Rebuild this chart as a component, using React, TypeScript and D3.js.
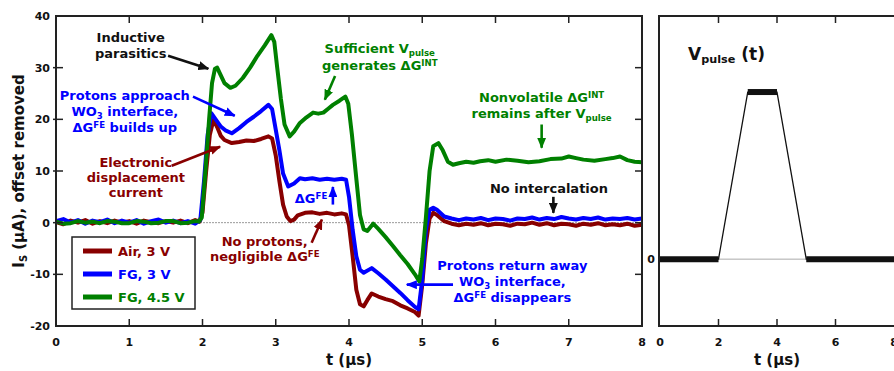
import * as d3 from "d3";

// ---- data ----
const timeTicks = [0, 1, 2, 3, 4, 5, 6, 7, 8];
const currentTicks = [-20, -10, 0, 10, 20, 30, 40];
const pulseTicks = [0, 2, 4, 6, 8];

const seriesNames = ["Air, 3 V", "FG, 3 V", "FG, 4.5 V"];

// [t (us), I_S (uA)]
const airTrace: [number, number][] = [
  [0, 0.1], [0.1, -0.3], [0.2, 0.4], [0.3, 0], [0.4, 0.5], [0.5, -0.2], [0.6, 0.3], [0.7, -0.1],
  [0.8, 0.4], [0.9, 0], [1.0, 0.3], [1.1, -0.2], [1.2, 0.4], [1.3, 0.1], [1.4, -0.1], [1.5, 0.3],
  [1.6, 0], [1.7, 0.4], [1.8, -0.1], [1.9, 0.5], [1.96, 0.2], [2.0, 2], [2.05, 10], [2.1, 17],
  [2.15, 19.9], [2.2, 18.5], [2.25, 16.8], [2.3, 16], [2.4, 15.4], [2.5, 15.6], [2.6, 15.9],
  [2.7, 15.8], [2.8, 16.2], [2.9, 16.7], [2.95, 16.3], [3.0, 13], [3.05, 8], [3.1, 3.5],
  [3.15, 1.2], [3.2, 0.3], [3.25, 0.6], [3.3, 1.4], [3.4, 1.9], [3.5, 2.0], [3.6, 1.7],
  [3.7, 1.9], [3.8, 1.6], [3.9, 1.8], [3.96, 1.6], [4.0, -0.5], [4.05, -6.5], [4.1, -13],
  [4.15, -15.8], [4.2, -16.2], [4.25, -15], [4.31, -13.7], [4.4, -14.3], [4.5, -14.8],
  [4.6, -15.2], [4.7, -16], [4.8, -16.6], [4.9, -17.3], [4.95, -18], [5.0, -12], [5.05, -4],
  [5.1, 0.8], [5.15, 1.9], [5.2, 1.5], [5.3, 0.3], [5.4, -0.2], [5.5, -0.5], [5.6, -0.2],
  [5.7, -0.4], [5.8, -0.1], [5.9, -0.5], [6.0, -0.2], [6.1, -0.3], [6.2, -0.6], [6.3, -0.2],
  [6.4, -0.3], [6.5, 0], [6.6, -0.4], [6.7, -0.1], [6.8, -0.5], [6.9, -0.2], [7.0, -0.3],
  [7.1, -0.6], [7.2, -0.2], [7.3, -0.4], [7.4, -0.1], [7.5, -0.5], [7.6, -0.3], [7.7, -0.5],
  [7.8, -0.2], [7.9, -0.6], [8.0, -0.4],
];

const fg3Trace: [number, number][] = [
  [0, 0.3], [0.1, 0.7], [0.2, 0], [0.3, 0.5], [0.4, -0.2], [0.5, 0.4], [0.6, 0.1], [0.7, 0.6],
  [0.8, -0.1], [0.9, 0.4], [1.0, 0], [1.1, 0.5], [1.2, -0.2], [1.3, 0.3], [1.4, 0.6], [1.5, 0],
  [1.6, 0.4], [1.7, -0.1], [1.8, 0.3], [1.9, -0.2], [1.97, 0.5], [2.02, 8], [2.07, 17],
  [2.12, 21.2], [2.18, 20], [2.25, 18.6], [2.32, 17.8], [2.4, 17.3], [2.5, 18.3], [2.6, 19.5],
  [2.7, 20.5], [2.8, 21.6], [2.9, 22.8], [2.95, 22], [3.0, 18], [3.05, 14], [3.1, 9.5],
  [3.17, 7], [3.25, 7.6], [3.33, 8.6], [3.4, 8.4], [3.5, 8.6], [3.6, 8.3], [3.7, 8.5],
  [3.8, 8.3], [3.9, 8.5], [3.96, 8.3], [4.0, 5], [4.05, -1.4], [4.1, -6.5], [4.15, -9.1],
  [4.2, -9.7], [4.31, -8.8], [4.4, -9.8], [4.5, -11], [4.6, -12.3], [4.7, -13.6], [4.8, -15],
  [4.9, -16.3], [4.95, -16.8], [5.0, -11], [5.05, -1.4], [5.1, 2.5], [5.15, 2.9], [5.2, 2.5],
  [5.3, 1.2], [5.4, 0.8], [5.5, 0.5], [5.6, 0.8], [5.7, 0.6], [5.8, 0.9], [5.9, 0.5],
  [6.0, 0.8], [6.1, 0.7], [6.2, 0.4], [6.3, 0.8], [6.4, 0.7], [6.5, 1.0], [6.6, 0.6],
  [6.7, 0.9], [6.8, 0.7], [6.9, 1.1], [7.0, 0.8], [7.1, 0.6], [7.2, 0.9], [7.3, 0.7],
  [7.4, 1.0], [7.5, 0.6], [7.6, 0.8], [7.7, 0.7], [7.8, 0.9], [7.9, 0.6], [8.0, 0.8],
];

const fg45Trace: [number, number][] = [
  [0, 0.2], [0.1, -0.2], [0.2, -0.1], [0.3, 0.3], [0.4, 0], [0.5, 0.2], [0.6, -0.1], [0.7, 0.3],
  [0.8, 0.2], [0.9, -0.1], [1.0, -0.1], [1.1, 0.3], [1.2, 0.2], [1.3, -0.1], [1.4, 0],
  [1.5, 0.3], [1.6, 0.3], [1.7, -0.1], [1.8, 0], [1.9, 0.3], [1.95, 0.2], [1.99, 1],
  [2.04, 10], [2.09, 20], [2.13, 27], [2.17, 29.8], [2.2, 30], [2.25, 28.5], [2.3, 27],
  [2.38, 26.1], [2.45, 26.5], [2.55, 28], [2.65, 30], [2.75, 32.3], [2.85, 34.3], [2.94, 36.3],
  [2.98, 35], [3.02, 30], [3.07, 24], [3.12, 19], [3.19, 16.7], [3.25, 17.6], [3.33, 19.3],
  [3.42, 20.4], [3.51, 21.3], [3.58, 21.1], [3.65, 21.3], [3.72, 22.1], [3.78, 22.8],
  [3.87, 23.6], [3.95, 24.4], [3.99, 23], [4.04, 17], [4.1, 8.5], [4.15, 1.5], [4.2, -1.3],
  [4.25, -1.6], [4.33, -0.2], [4.4, -1.2], [4.5, -2.8], [4.6, -4.5], [4.7, -6.3], [4.8, -8],
  [4.9, -10], [4.96, -11.4], [5.0, -7], [5.05, 1], [5.1, 10], [5.15, 14.8], [5.22, 15.4],
  [5.28, 14], [5.35, 11.8], [5.42, 11.2], [5.5, 11.5], [5.6, 11.8], [5.7, 11.6], [5.79, 11.9],
  [5.9, 12.1], [6.0, 11.8], [6.15, 12.2], [6.3, 12.0], [6.45, 11.7], [6.6, 11.9], [6.75, 12.3],
  [6.9, 12.4], [7.0, 12.8], [7.1, 12.5], [7.2, 12.2], [7.35, 12.0], [7.5, 12.3], [7.6, 12.5],
  [7.7, 12.8], [7.8, 12.1], [7.9, 11.8], [8.0, 11.7],
];

// V_pulse(t) normalised
const pulseTimes = [0, 2, 3, 4, 5, 8];
const pulseValues = [0, 0, 1, 1, 0, 0];

const RED = "#880000";
const BLUE = "#0000ff";
const GREEN = "#008000";
const INK = "#111";
const FONT = "DejaVu Sans, Verdana, sans-serif";

const traces = [
  { name: seriesNames[0], pts: airTrace, color: RED },
  { name: seriesNames[1], pts: fg3Trace, color: BLUE },
  { name: seriesNames[2], pts: fg45Trace, color: GREEN },
];

// annotations (position of first text line in data coords)
const notes = [
  { lines: ["Inductive", "parasitics"], t: 1.02, v: 35.0, color: INK, lh: 16 },
  { lines: ["Protons approach", "WO_{3} interface,", "ΔG^{FE} builds up"], t: 0.94, v: 23.8, color: BLUE, lh: 16 },
  { lines: ["Electronic", "displacement", "current"], t: 1.09, v: 10.8, color: RED, lh: 15 },
  { lines: ["Sufficient V_{pulse}", "generates ΔG^{INT}"], t: 4.42, v: 32.9, color: GREEN, lh: 17 },
  { lines: ["Nonvolatile ΔG^{INT}", "remains after V_{pulse}"], t: 6.63, v: 23.4, color: GREEN, lh: 16 },
  { lines: ["No intercalation"], t: 6.73, v: 5.8, color: INK, lh: 15 },
  { lines: ["No protons,", "negligible ΔG^{FE}"], t: 2.85, v: -4.6, color: RED, lh: 15 },
  { lines: ["Protons return away", "WO_{3} interface,", "ΔG^{FE} disappears"], t: 6.23, v: -9.1, color: BLUE, lh: 16 },
];

const arrows = [
  { from: [1.53, 32.3], to: [2.08, 29.8], color: INK },
  { from: [1.87, 24.4], to: [2.44, 20.7], color: BLUE },
  { from: [1.58, 11.0], to: [2.24, 14.7], color: RED },
  { from: [3.81, 28.4], to: [3.67, 23.8], color: GREEN },
  { from: [6.63, 19.0], to: [6.63, 14.5], color: GREEN },
  { from: [6.79, 5.0], to: [6.79, 1.9], color: INK },
  { from: [3.78, 3.5], to: [3.78, 6.9], color: BLUE },
  { from: [3.49, -3.9], to: [3.63, 0.6], color: RED },
  { from: [5.42, -12.0], to: [4.79, -12.0], color: BLUE },
];

// renders "_{sub}" and "^{sup}" markup as tspans
function rich(str: string) {
  const parts = str.split(/(_\{[^}]*\}|\^\{[^}]*\})/).filter(Boolean);
  let cur = 0;
  return parts.map((p, i) => {
    let target = 0;
    let txt = p;
    let small = false;
    if (p.startsWith("_{")) { target = 3; txt = p.slice(2, -1); small = true; }
    else if (p.startsWith("^{")) { target = -4; txt = p.slice(2, -1); small = true; }
    const dy = target - cur;
    cur = target;
    return (
      <tspan key={i} dy={dy} fontSize={small ? "66%" : undefined}>{txt}</tspan>
    );
  });
}

export default function App() {
  const W = 894, H = 371;
  const x = d3.scaleLinear().domain([0, 8]).range([56, 642]);
  const y = d3.scaleLinear().domain([-20, 40]).range([326, 16]);
  const xp = d3.scaleLinear().domain([0, 8]).range([660, 894]);
  const yp = d3.scaleLinear().domain([-0.4, 1.455]).range([326, 16]);

  const line = d3.line<[number, number]>().x(d => x(d[0])).y(d => y(d[1]));
  const pulse = pulseTimes.map((t, i) => [t, pulseValues[i]] as [number, number]);
  const pulseLine = d3.line<[number, number]>().x(d => xp(d[0])).y(d => yp(d[1]));
  const flats = d3.pairs(pulse).filter(([a, b]) => a[1] === b[1]);
  const tk = 7;

  const [x0, x1] = x.range();
  const [yb, yt] = y.range();

  return (
    <svg width={W} height={H} style={{ position: "absolute", left: 0, top: 0 }} fontFamily={FONT} fontWeight="bold">
      <defs>
        {[INK, BLUE, RED, GREEN].map(c => (
          <marker key={c} id={"ah" + c.slice(1)} markerUnits="userSpaceOnUse" markerWidth={11} markerHeight={9}
            refX={10} refY={4.5} orient="auto">
            <path d="M0,0 L11,4.5 L0,9 Z" fill={c} />
          </marker>
        ))}
      </defs>

      {/* ---------- left panel ---------- */}
      <line x1={x0} x2={x1} y1={y(0)} y2={y(0)} stroke="#999" strokeWidth={1} strokeDasharray="2,1" />
      {traces.map(s => (
        <path key={s.name} d={line(s.pts) || ""} fill="none" stroke={s.color} strokeWidth={4} strokeLinejoin="round" />
      ))}

      {/* frame + ticks */}
      <rect x={x0} y={yt} width={x1 - x0} height={yb - yt} fill="none" stroke="#222" strokeWidth={2} />
      {timeTicks.slice(1, -1).map(t => (
        <g key={"xt" + t} stroke="#222" strokeWidth={1.5}>
          <line x1={x(t)} x2={x(t)} y1={yb} y2={yb - tk} />
          <line x1={x(t)} x2={x(t)} y1={yt} y2={yt + tk} />
        </g>
      ))}
      {currentTicks.slice(1, -1).map(v => (
        <g key={"yt" + v} stroke="#222" strokeWidth={1.5}>
          <line x1={x0 - 3} x2={x0 + tk} y1={y(v)} y2={y(v)} />
          <line x1={x1} x2={x1 - tk} y1={y(v)} y2={y(v)} />
        </g>
      ))}
      {timeTicks.map(t => (
        <text key={"xl" + t} x={x(t)} y={346} fontSize={11} textAnchor="middle" fill={INK}>{t}</text>
      ))}
      {currentTicks.map(v => (
        <text key={"yl" + v} x={50} y={y(v) + 4} fontSize={11} textAnchor="end" fill={INK}>{v}</text>
      ))}
      <text x={(x0 + x1) / 2} y={365} fontSize={15} textAnchor="middle" fill={INK}>t (μs)</text>
      <text transform={`translate(24,${(yt + yb) / 2}) rotate(-90)`} fontSize={15} textAnchor="middle" fill={INK}>
        {rich("I_{S} (μA), offset removed")}
      </text>

      {/* annotations */}
      {notes.map((n, i) => (
        <g key={"n" + i} fill={n.color} fontSize={13} textAnchor="middle">
          {n.lines.map((l, j) => (
            <text key={j} x={x(n.t)} y={y(n.v) + j * n.lh}>{rich(l)}</text>
          ))}
        </g>
      ))}
      <text x={x(3.26)} y={y(3.9)} fontSize={13} fill={BLUE}>{rich("ΔG^{FE}")}</text>
      {arrows.map((a, i) => (
        <line key={"a" + i} x1={x(a.from[0])} y1={y(a.from[1])} x2={x(a.to[0])} y2={y(a.to[1])}
          stroke={a.color} strokeWidth={2.6} markerEnd={`url(#ah${a.color.slice(1)})`} />
      ))}

      {/* legend */}
      <g>
        <rect x={72} y={237} width={123} height={72} fill="#fff" stroke="#222" strokeWidth={1.5} />
        {traces.map((s, i) => (
          <g key={"lg" + i}>
            <line x1={83} x2={112} y1={251 + i * 23} y2={251 + i * 23} stroke={s.color} strokeWidth={5} />
            <text x={118} y={256 + i * 23} fontSize={13} fill={s.color}>{s.name}</text>
          </g>
        ))}
      </g>

      {/* ---------- right panel ---------- */}
      <line x1={xp(2)} x2={xp(5)} y1={yp(0)} y2={yp(0)} stroke="#aaa" strokeWidth={1} />
      <path d={pulseLine(pulse) || ""} fill="none" stroke={INK} strokeWidth={1.3} />
      {flats.map(([a, b], i) => (
        <line key={"f" + i} x1={xp(a[0])} x2={xp(b[0])} y1={yp(a[1])} y2={yp(b[1])} stroke={INK} strokeWidth={6} />
      ))}
      <rect x={xp(0) - 1} y={yt} width={W - xp(0) + 10} height={yb - yt} fill="none" stroke="#222" strokeWidth={2} />
      {pulseTicks.slice(1, -1).map(t => (
        <g key={"pt" + t} stroke="#222" strokeWidth={1.5}>
          <line x1={xp(t)} x2={xp(t)} y1={yb} y2={yb - tk} />
          <line x1={xp(t)} x2={xp(t)} y1={yt} y2={yt + tk} />
        </g>
      ))}
      {pulseTicks.map(t => (
        <text key={"pl" + t} x={xp(t)} y={346} fontSize={11} textAnchor="middle" fill={INK}>{t}</text>
      ))}
      <text x={655} y={yp(0) + 4} fontSize={11} textAnchor="end" fill={INK}>0</text>
      <text x={xp(4)} y={365} fontSize={15} textAnchor="middle" fill={INK}>t (μs)</text>
      <text x={688} y={60} fontSize={17} fill={INK}>{rich("V_{pulse} (t)")}</text>
    </svg>
  );
}
